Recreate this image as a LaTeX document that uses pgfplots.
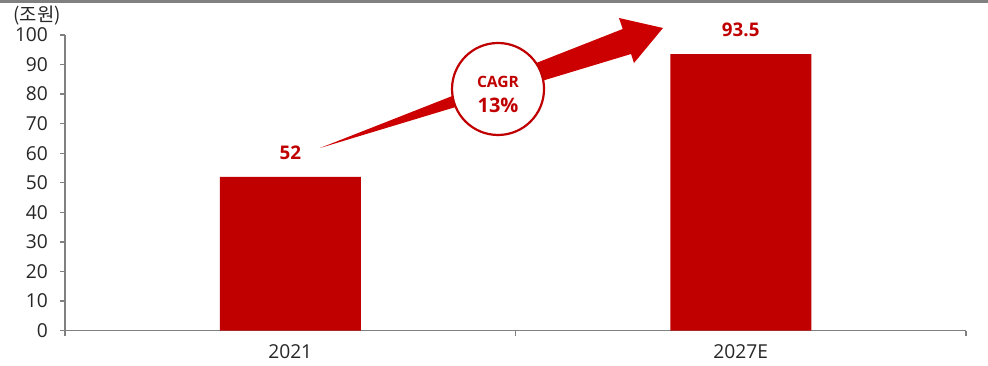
\documentclass[border=0pt]{standalone}
\usepackage{pgfplots}
\pgfplotsset{compat=1.18}
\usepackage{fontspec}
\setmainfont{Open Sans}
\newfontfamily\kr{Noto Sans CJK KR}
\definecolor{barred}{HTML}{C00000}
\definecolor{arrred}{HTML}{CC0000}
\definecolor{axisgray}{HTML}{808080}
\definecolor{txt}{HTML}{262626}
\begin{document}
\begin{tikzpicture}
\useasboundingbox (0,0) rectangle (494pt,182.5pt);
\draw[axisgray, line width=1.3pt] (0,181.8pt) -- (494pt,181.8pt);
\node[font=\kr\fontsize{9.4}{11}\selectfont, text=txt, anchor=center] at (18.5pt,174.5pt) {(조원)};
\begin{axis}[
  at={(32.5pt,17.25pt)}, anchor=south west,
  scale only axis, width=450.5pt, height=147.75pt,
  xmin=-0.5, xmax=1.5, ymin=0, ymax=100,
  ytick={0,10,...,100},
  xtick={-0.5,0.5,1.5}, xticklabels={},
  extra x ticks={0,1}, extra x tick labels={2021,2027E},
  extra x tick style={tick style={draw=none}},
  axis x line*=bottom, axis y line*=left,
  axis line style={draw=axisgray, line width=0.7pt},
  tick style={draw=axisgray, line width=0.7pt},
  tick align=outside, major tick length=2.5pt,
  ticklabel style={font=\fontsize{9.6}{11}\selectfont, text=txt},
  yticklabel style={xshift=-2.5pt},
  xticklabel style={yshift=-0.8pt},
  /pgf/number format/assume math mode=true,
  clip=false,
  ybar, bar width=70.5pt,
  nodes near coords,
  point meta=explicit symbolic,
  nodes near coords style={anchor=center, yshift=12pt, font=\bfseries\fontsize{9.4}{11}\selectfont, text=barred},
]
\addplot[fill=barred, draw=none] coordinates {(0,52)[52] (1,93.5)[93.5]};
\fill[arrred] (axis cs:0.066,61.76) -- (axis cs:0.738,102.03) -- (axis cs:0.7297,105.75) -- (axis cs:0.8274,102.37) -- (axis cs:0.763,90.52) -- (axis cs:0.7564,93.57) -- cycle;
\draw[barred, line width=1.1pt, fill=white] (axis cs:0.4612,81.73) circle[radius=23pt];
\node[font=\bfseries\fontsize{7.8}{10}\selectfont, text=barred, yshift=3.7pt] at (axis cs:0.4612,81.73) {CAGR};
\node[font=\bfseries\fontsize{10}{12}\selectfont, text=barred, yshift=-8pt] at (axis cs:0.4612,81.73) {13\%};
\end{axis}
\end{tikzpicture}
\end{document}
